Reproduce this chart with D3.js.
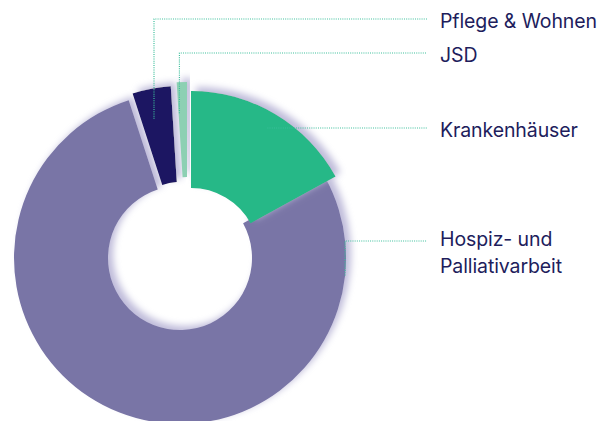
<!DOCTYPE html>
<html>
<head>
<meta charset="utf-8">
<script src="https://cdn.jsdelivr.net/npm/d3@7"></script>
<style>
  html, body { margin: 0; padding: 0; background: #fff; }
  svg { display: block; }
  .label { font-family: Inter, Roboto, "Noto Sans", sans-serif; font-size: 19.5px; fill: #211d5c; letter-spacing: -0.1px; }
</style>
</head>
<body>
<svg width="609" height="421"></svg>
<script>
const svg = d3.select('svg');

// data
const categories = ['Krankenhäuser', 'Hospiz- und Palliativarbeit', 'Pflege & Wohnen', 'JSD'];
const values = [17, 78, 4, 1];
const labelLines = [['Krankenhäuser'], ['Hospiz- und', 'Palliativarbeit'], ['Pflege & Wohnen'], ['JSD']];

const colors = ['#26b887', '#7975a6', '#1e1862', '#8dd0b3'];

// each piece is shifted a bit and has its own radii (exploded look)
const pieces = [
  { dx: 11, dy: -2, inner: 68, outer: 165 },
  { dx: 0, dy: 0, inner: 72, outer: 166 },
  { dx: 0.5, dy: -17, inner: 59, outer: 155 },
  { dx: 7, dy: -11, inner: 70, outer: 165 }
];

// where the leader line starts inside the slice (t = position along the slice angle)
const leaders = [
  { t: 0.5, r: 150, y: 128, base: 137 },
  { t: 0.124, r: 166, y: 241, base: 246 },
  { t: 0.4, r: 125, y: 19, base: 28 },
  { t: 0.1, r: 134, y: 53, base: 62 }
];

const cx = 180, cy = 258;
const lineEnd = 427, textX = 440;

const data = categories.map((c, i) => ({ name: c, value: values[i], i }));

const pie = d3.pie().sort(null).value(d => d.value);
const arcs = pie(data);

const defs = svg.append('defs');
const f = defs.append('filter')
  .attr('id', 'shadow')
  .attr('x', '-20%').attr('y', '-20%')
  .attr('width', '140%').attr('height', '140%');
f.append('feDropShadow')
  .attr('dx', 5).attr('dy', -4)
  .attr('stdDeviation', 3.5)
  .attr('flood-color', '#bfbcda')
  .attr('flood-opacity', 1);

const g = svg.append('g').attr('transform', `translate(${cx},${cy})`);

// big slice first so the others sit on top
const drawOrder = [1, 0, 2, 3].map(i => arcs[i]);

g.selectAll('path.slice')
  .data(drawOrder)
  .join('path')
  .attr('class', 'slice')
  .attr('transform', d => `translate(${pieces[d.index].dx},${pieces[d.index].dy})`)
  .attr('d', d => d3.arc()
    .innerRadius(pieces[d.index].inner)
    .outerRadius(pieces[d.index].outer)(d))
  .attr('fill', d => colors[d.index])
  .attr('filter', 'url(#shadow)');

// leader lines
const anchor = d => {
  const L = leaders[d.index], p = pieces[d.index];
  const a = d.startAngle + (d.endAngle - d.startAngle) * L.t;
  return [cx + p.dx + L.r * Math.sin(a), cy + p.dy - L.r * Math.cos(a)];
};

svg.selectAll('path.leader')
  .data(arcs)
  .join('path')
  .attr('class', 'leader')
  .attr('d', d => {
    const [x, y] = anchor(d);
    const ly = leaders[d.index].y;
    if (Math.abs(y - ly) > 3) return d3.line()([[x, y], [x, ly], [lineEnd, ly]]);
    return d3.line()([[x, ly], [lineEnd, ly]]);
  })
  .attr('fill', 'none')
  .attr('stroke', '#3cbf9b')
  .attr('stroke-width', 1.2)
  .attr('stroke-dasharray', '1 1.2');

// labels
const labels = svg.selectAll('text.label')
  .data(arcs)
  .join('text')
  .attr('class', 'label')
  .attr('x', textX)
  .attr('y', d => leaders[d.index].base);

labels.selectAll('tspan')
  .data(d => labelLines[d.index])
  .join('tspan')
  .attr('x', textX)
  .attr('dy', (d, i) => i === 0 ? 0 : 27)
  .text(d => d);
</script>
</body>
</html>
